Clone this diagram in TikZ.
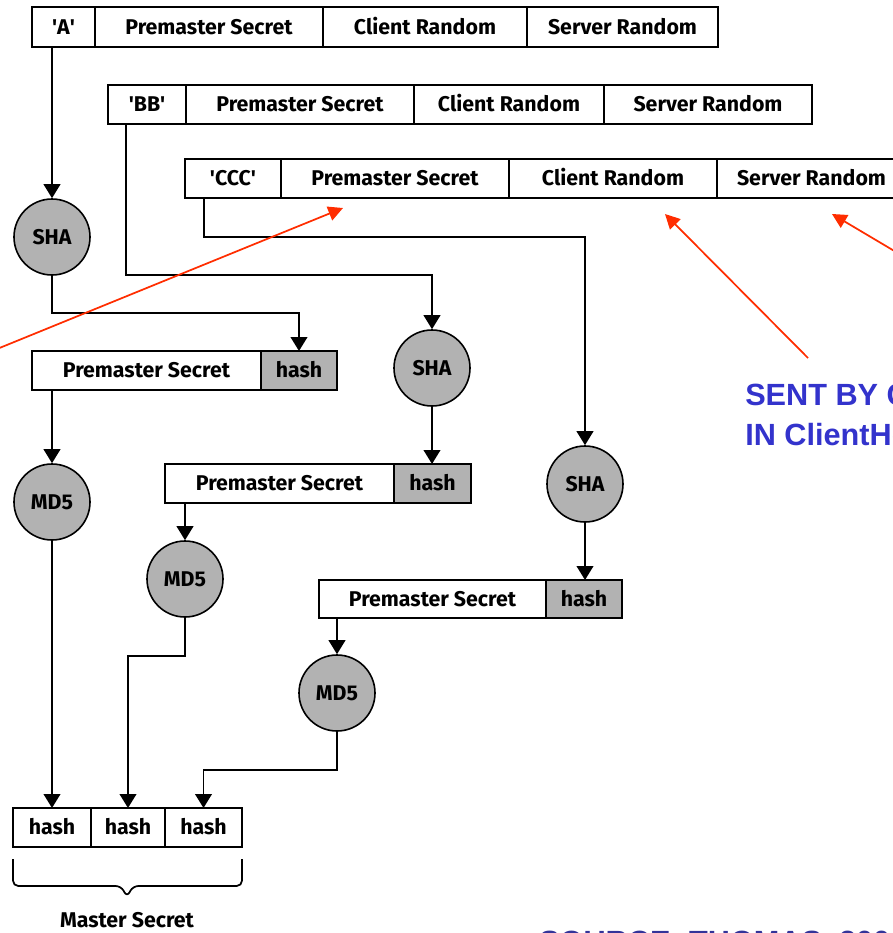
\documentclass[tikz,border=0pt]{standalone}
\usepackage{fontspec}
\setmainfont{Fira Sans}
\newfontfamily\notefont{Liberation Sans}
\usetikzlibrary{arrows.meta,calc}

\definecolor{cellgray}{RGB}{178,178,178}
\definecolor{pointer}{RGB}{255,45,0}
\definecolor{noteblue}{RGB}{51,51,204}
\definecolor{srcblue}{RGB}{51,51,153}

\tikzset{
  cell/.style={draw, line width=1.3pt, inner sep=0pt, outer sep=0pt,
    font=\fontsize{16}{19}\selectfont\bfseries,
    text height=11pt, text depth=0pt},
  shaded/.style={fill=cellgray},
  fn/.style={circle, draw, line width=1.2pt, fill=cellgray, inner sep=0pt,
    minimum size=57pt, font=\fontsize{16}{19}\selectfont\bfseries,
    text height=11pt, text depth=0pt},
  arr/.style={line width=1.4pt, -{Triangle[width=12.5pt,length=10.5pt]}},
  pointerarr/.style={draw=pointer, line width=1.3pt,
    -{Triangle[width=11pt,length=11pt]}, color=pointer},
  bracket/.style={line width=1.3pt, rounded corners=4pt},
  note/.style={anchor=base west, inner sep=0pt, text=noteblue,
    font=\notefont\fontsize{23}{28}\selectfont\bfseries},
  source/.style={anchor=base west, inner sep=0pt, text=srcblue,
    font=\notefont\fontsize{23}{28}\selectfont\bfseries},
}

% a rectangular field: name, left, top, right, bottom (in px), extra style, text
\newcommand\mkcell[7]{%
  \pgfmathsetmacro\cellw{(#4-#2)*0.75}%
  \pgfmathsetmacro\cellh{(#5-#3)*0.75}%
  \node[cell,#6,minimum width=\cellw pt,minimum height=\cellh pt]
    (#1) at ({(#2+#4)/2},{(#3+#5)/2}) {#7};}
\newcommand\tq{\textquotesingle}

\begin{document}
\begin{tikzpicture}[x=0.75pt,y=-0.75pt]
\useasboundingbox (0,0) rectangle (893,933);
\clip (0,0) rectangle (893,933);

% input blocks
\mkcell{a0}{32}{7}{95}{47}{}{\tq A\tq}
\mkcell{a1}{95}{7}{323}{47}{}{Premaster Secret}
\mkcell{a2}{323}{7}{527}{47}{}{Client Random}
\mkcell{a3}{527}{7}{718}{47}{}{Server Random}

\mkcell{b0}{108}{85}{186}{124}{}{\tq BB\tq}
\mkcell{b1}{186}{85}{414}{124}{}{Premaster Secret}
\mkcell{b2}{414}{85}{604}{124}{}{Client Random}
\mkcell{b3}{604}{85}{812}{124}{}{Server Random}

\mkcell{c0}{185}{159}{281}{198}{}{\tq CCC\tq}
\mkcell{c1}{281}{159}{509}{198}{}{Premaster Secret}
\mkcell{c2}{509}{159}{717}{198}{}{Client Random}
\mkcell{c3}{717}{159}{906}{198}{}{Server Random}

% hash functions
\node[fn] (s1) at (52,237) {SHA};
\node[fn] (m1) at (52,502) {MD5};
\node[fn] (s2) at (432,368) {SHA};
\node[fn] (m2) at (185,579) {MD5};
\node[fn] (s3) at (585,484) {SHA};
\node[fn] (m3) at (337,693) {MD5};

% intermediate blocks
\mkcell{p1}{32}{351}{261}{390}{}{Premaster Secret}
\mkcell{h1}{261}{351}{337}{390}{shaded}{hash}
\mkcell{p2}{165}{464}{394}{503}{}{Premaster Secret}
\mkcell{h2}{394}{464}{471}{503}{shaded}{hash}
\mkcell{p3}{319}{580}{546}{618}{}{Premaster Secret}
\mkcell{h3}{546}{580}{622}{618}{shaded}{hash}

% result
\mkcell{o1}{13}{808}{91}{847}{}{hash}
\mkcell{o2}{91}{808}{165}{847}{}{hash}
\mkcell{o3}{165}{808}{242}{847}{}{hash}

% first chain
\draw[arr] (s1.north |- a0.south) -- (s1.north);
\coordinate (j1) at (52,313);
\draw[arr] (s1.south) -- (j1) -| (h1.north);
\draw[arr] (m1.north |- p1.south) -- (m1.north);

% second chain
\coordinate (j2) at (432,275);
\draw[arr] ($(b0.south west)+(18,0)$) |- (j2) -- (s2.north);
\draw[arr] (s2.south) -- (s2.south |- h2.north);
\draw[arr] (m2.north |- p2.south) -- (m2.north);

% third chain
\coordinate (j3) at (585,237);
\draw[arr] ($(c0.south west)+(19,0)$) |- (j3) -- (s3.north);
\draw[arr] (s3.south) -- (s3.south |- h3.north);
\draw[arr] (m3.north |- p3.south) -- (m3.north);

% collecting the digests
\draw[arr] (m1.south) -- (m1.south |- o1.north);
\coordinate (k2) at (185,656);
\draw[arr] (m2.south) -- (k2) -| (o2.north);
\coordinate (k3) at (337,770);
\draw[arr] (m3.south) -- (k3) -| (o3.north);

% brace under the result
\draw[bracket] (13,859) -- (13,886) -- (121,886) -- (127,897)
  -- (133,886) -- (242,886) -- (242,859);
\node[font=\fontsize{16}{19}\selectfont\bfseries] (ms) at (127,920) {Master Secret};

% red pointers
\coordinate (t1) at (-30,360);
\coordinate (e1) at (343,208);
\draw[pointerarr] (t1) -- (e1);
\coordinate (t2) at (808,358);
\coordinate (e2) at (665,214);
\draw[pointerarr] (t2) -- (e2);
\coordinate (t3) at (950,284);
\coordinate (e3) at (832,214);
\draw[pointerarr] (t3) -- (e3);

% annotations
\node[note] (n1) at (745,405) {SENT BY CLIENT};
\node[note] (n2) at (745,445) {IN ClientHello};
\node[source] (src) at (539,952) {SOURCE: THOMAS, 2000};
\end{tikzpicture}
\end{document}
